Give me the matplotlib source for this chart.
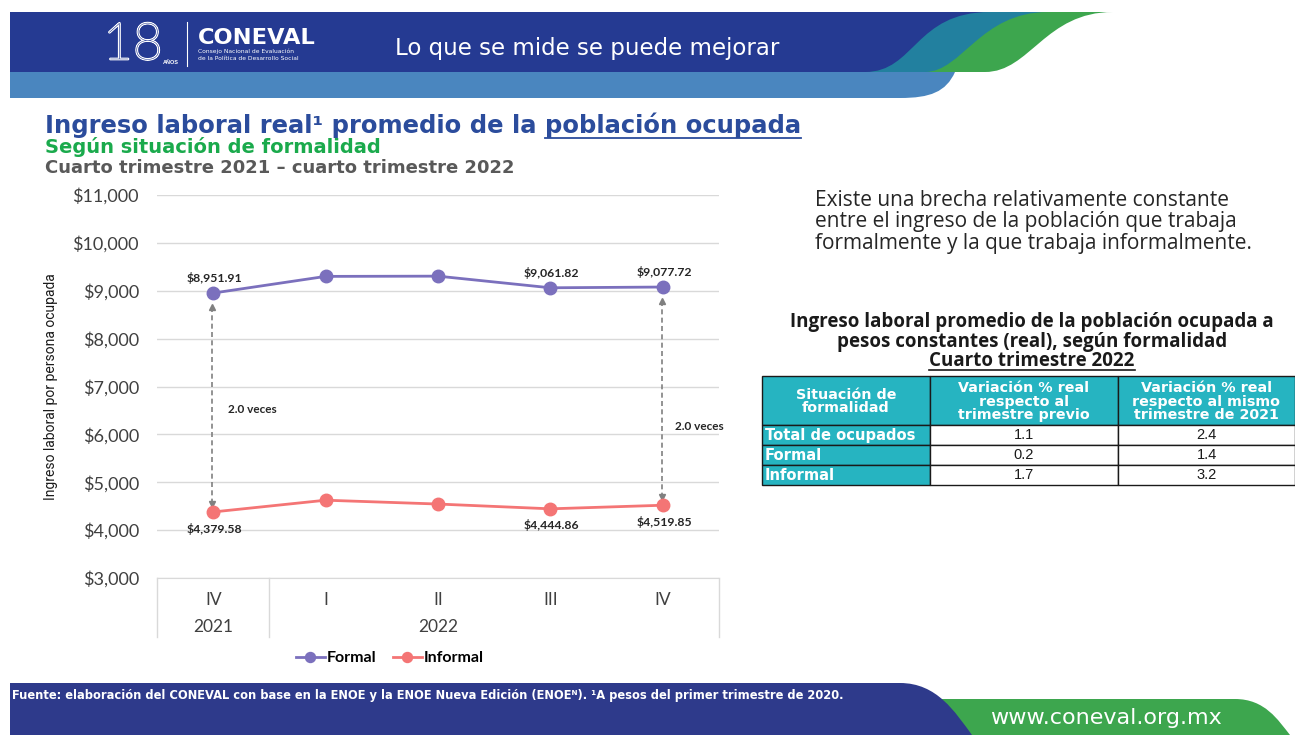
import matplotlib
matplotlib.use("Agg")
import matplotlib.pyplot as plt
from matplotlib.path import Path
from matplotlib.patches import PathPatch, Rectangle
from matplotlib.ticker import FuncFormatter
import matplotlib.patheffects as pe

# datos
trimestres = ["IV", "I", "II", "III", "IV"]
anios = ["2021", "2022"]
formal = [8951.91, 9300.0, 9305.0, 9061.82, 9077.72]
informal = [4379.58, 4625.0, 4545.0, 4444.86, 4519.85]
etiquetas_idx = [0, 3, 4]
brecha_txt = ["2.0 veces", "2.0 veces"]

tabla_encabezado = ["Situación de\nformalidad",
                    "Variación % real\nrespecto al\ntrimestre previo",
                    "Variación % real\nrespecto al mismo\ntrimestre de 2021"]
tabla_filas = ["Total de ocupados", "Formal", "Informal"]
var_previo = [1.1, 0.2, 1.7]
var_anual = [2.4, 1.4, 3.2]

C_FORMAL = "#7B70BD"
C_INFORMAL = "#F47575"
AZUL = "#253A92"
TEAL = "#22809F"
VERDE = "#3DA64E"
AZUL_CLARO = "#4A86BF"
TURQ = "#26B4C1"

CAL = ["Lato", "DejaVu Sans"]
OPEN = ["Open Sans", "DejaVu Sans"]
ARIAL = ["Liberation Sans", "DejaVu Sans"]
ANCHA = ["DejaVu Sans"]

fig = plt.figure(figsize=(12.95, 7.35), dpi=100)
deco = fig.add_axes([0, 0, 1, 1], zorder=0)
deco.set_xlim(0, 1295)
deco.set_ylim(735, 0)
deco.axis("off")
r = fig.canvas.get_renderer()


def ancho(t):
    return t.get_window_extent(renderer=r).width


def ajustar(t, objetivo, maximo):
    # ajusta el tamaño para que el texto ocupe el ancho del original
    size = t.get_fontsize() * objetivo / ancho(t)
    t.set_fontsize(min(size, maximo))
    return t


def franja(xt, ct, cb, xb, color, top=12, bottom=72):
    verts = [(10, top), (xt, top), (ct, top), (cb, bottom), (xb, bottom), (10, bottom), (10, top)]
    codes = [Path.MOVETO, Path.LINETO, Path.CURVE4, Path.CURVE4, Path.CURVE4,
             Path.LINETO, Path.CLOSEPOLY]
    deco.add_patch(PathPatch(Path(verts, codes), facecolor=color, edgecolor="none"))


codes = [Path.MOVETO, Path.LINETO, Path.CURVE4, Path.CURVE4, Path.CURVE4, Path.LINETO, Path.CLOSEPOLY]

# encabezado
franja(1113, 1045, 1030, 985, VERDE)
franja(1048, 980, 962, 925, TEAL)
franja(990, 915, 915, 865, AZUL)
verts = [(10, 72), (955, 72), (946, 92), (930, 98), (900, 98), (10, 98), (10, 72)]
deco.add_patch(PathPatch(Path(verts, codes), facecolor=AZUL_CLARO, edgecolor="none"))

deco.text(103, 45, "18", color=AZUL, fontsize=37, family=CAL, fontweight="light",
          va="center", ha="left",
          path_effects=[pe.withStroke(linewidth=1.6, foreground="white")])
deco.text(163, 62, "AÑOS", color="white", fontsize=4, family=ARIAL, fontweight="bold", va="center")
deco.plot([187, 187], [22, 66], color="white", lw=0.8)
ajustar(deco.text(198, 38, "CONEVAL", color="white", fontsize=15, family=ANCHA,
                  fontweight="heavy", va="center"), 117, 17)
deco.text(198, 51, "Consejo Nacional de Evaluación", color="white", fontsize=4.3, family=ANCHA, va="center")
deco.text(198, 58, "de la Política de Desarrollo Social", color="white", fontsize=4.3, family=ANCHA, va="center")
ajustar(deco.text(395, 48, "Lo que se mide se puede mejorar", color="white", fontsize=15,
                  family=ANCHA, va="center"), 400, 16.5)

# pie
verts = [(940, 699), (1235, 699), (1265, 699), (1278, 720), (1290, 735), (940, 735), (940, 699)]
deco.add_patch(PathPatch(Path(verts, codes), facecolor=VERDE, edgecolor="none"))
verts = [(10, 683), (900, 683), (937, 683), (955, 712), (972, 735), (10, 735), (10, 683)]
deco.add_patch(PathPatch(Path(verts, codes), facecolor="#2E3A8B", edgecolor="none"))
ajustar(deco.text(12, 696, "Fuente: elaboración del CONEVAL con base en la ENOE y la ENOE Nueva Edición (ENOEᴺ). "
                  "¹A pesos del primer trimestre de 2020.", color="white", fontsize=7.6,
                  family=ANCHA, fontweight="bold", va="center"), 833, 8.6)
ajustar(deco.text(990, 718, "www.coneval.org.mx", color="white", fontsize=15, family=ANCHA,
                  va="center"), 245, 16)

# titulos
titulo = "Ingreso laboral real¹ promedio de la población ocupada"
prefijo = "Ingreso laboral real¹ promedio de la "
t1 = ajustar(deco.text(45, 133, titulo, color="#2B4C9C", fontsize=17, family=ANCHA,
                       fontweight="bold", va="baseline"), 806, 17.5)
tp = deco.text(45, 133, prefijo, fontsize=t1.get_fontsize(), family=ANCHA, fontweight="bold",
               va="baseline")
x_sub = 45 + ancho(tp)
tp.remove()
deco.plot([x_sub, 45 + ancho(t1)], [137.5, 137.5], color="#2B4C9C", lw=1.3)
ajustar(deco.text(45, 153, "Según situación de formalidad", color="#1AAA4C", fontsize=13,
                  family=ANCHA, fontweight="bold", va="baseline"), 370, 14)
ajustar(deco.text(45, 173, "Cuarto trimestre 2021 – cuarto trimestre 2022", color="#595959",
                  fontsize=12.5, family=ANCHA, fontweight="bold", va="baseline"), 496, 13)

# texto derecho
lineas = ["Existe una brecha relativamente constante",
          "entre el ingreso de la población que trabaja",
          "formalmente y la que trabaja informalmente."]
t = ajustar(deco.text(815, 200, lineas[0], color="#262626", fontsize=14, family=OPEN,
                      va="center"), 420, 15)
for i, linea in enumerate(lineas[1:], start=1):
    deco.text(815, 200 + i * 21.5, linea, color="#262626", fontsize=t.get_fontsize(),
              family=OPEN, va="center")

# titulo de la tabla
tt = ajustar(deco.text(1032, 322, "Ingreso laboral promedio de la población ocupada a", color="#1A1A1A",
                       fontsize=12.5, family=OPEN, fontweight="bold", va="center", ha="center"), 492, 13.5)
fs = tt.get_fontsize()
deco.text(1032, 341.5, "pesos constantes (real), según formalidad", color="#1A1A1A", fontsize=fs,
          family=OPEN, fontweight="bold", va="center", ha="center")
t3 = deco.text(1032, 361, "Cuarto trimestre 2022", color="#1A1A1A", fontsize=fs, family=OPEN,
               fontweight="bold", va="center", ha="center")
w3 = ancho(t3)
deco.plot([1032 - w3 / 2, 1032 + w3 / 2], [370, 370], color="#1A1A1A", lw=1.2)

# tabla
col_x = [762, 930, 1118, 1295]
fila_y = [376, 425, 445, 465, 485]
for j in range(3):
    deco.add_patch(Rectangle((col_x[j], fila_y[0]), col_x[j + 1] - col_x[j], fila_y[1] - fila_y[0],
                             facecolor=TURQ, edgecolor="#1A1A1A", lw=1))
    deco.text((col_x[j] + col_x[j + 1]) / 2, (fila_y[0] + fila_y[1]) / 2 + 1, tabla_encabezado[j],
              color="white", fontsize=10.3, family=ANCHA, fontweight="bold",
              ha="center", va="center", linespacing=0.95)
for i, nombre in enumerate(tabla_filas):
    y0, y1 = fila_y[i + 1], fila_y[i + 2]
    deco.add_patch(Rectangle((col_x[0], y0), col_x[1] - col_x[0], y1 - y0,
                             facecolor=TURQ, edgecolor="#1A1A1A", lw=1))
    deco.text(col_x[0] + 3, (y0 + y1) / 2, nombre, color="white", fontsize=10.6,
              family=ANCHA, fontweight="bold", va="center")
    for j, val in enumerate([var_previo[i], var_anual[i]]):
        deco.add_patch(Rectangle((col_x[j + 1], y0), col_x[j + 2] - col_x[j + 1], y1 - y0,
                                 facecolor="white", edgecolor="#1A1A1A", lw=1))
        deco.text((col_x[j + 1] + col_x[j + 2]) / 2, (y0 + y1) / 2, f"{val:.1f}",
                  color="#1A1A1A", fontsize=10.5, family=ARIAL, va="center", ha="center")

# grafica
ax = fig.add_axes([157 / 1295, 1 - 578 / 735, 562 / 1295, 383 / 735], zorder=2)
ax.patch.set_alpha(0)
x = list(range(len(trimestres)))
ax.set_xlim(-0.5, 4.5)
ax.set_ylim(3000, 11000)
ax.set_yticks(range(3000, 11001, 1000))
ax.yaxis.set_major_formatter(FuncFormatter(lambda v, p: f"${v:,.0f}"))
ax.yaxis.grid(True, color="#D9D9D9", lw=1)
ax.set_axisbelow(True)
for s in ["top", "right", "left"]:
    ax.spines[s].set_visible(False)
ax.spines["bottom"].set_color("#D9D9D9")
ax.set_xticks([])
ax.tick_params(axis="y", length=0, pad=13, labelsize=13, labelcolor="#404040")
for lab in ax.get_yticklabels():
    lab.set_family(CAL)

ax.plot(x, formal, color=C_FORMAL, lw=2, marker="o", ms=9, label="Formal", zorder=3)
ax.plot(x, informal, color=C_INFORMAL, lw=2, marker="o", ms=9, label="Informal", zorder=3)

for i in etiquetas_idx:
    ax.annotate(f"${formal[i]:,.2f}", (x[i], formal[i]), xytext=(1, 11), textcoords="offset points",
                ha="center", va="center", fontsize=8.8, fontweight="bold", family=CAL, color="#262626")
    ax.annotate(f"${informal[i]:,.2f}", (x[i], informal[i]), xytext=(1, -12), textcoords="offset points",
                ha="center", va="center", fontsize=8.8, fontweight="bold", family=CAL, color="#262626")

# flechas de brecha
for i in [0, 4]:
    ytop = formal[i] - 300
    ybot = informal[i] + 170
    xa = x[i] - 0.01
    ax.plot([xa, xa], [ytop, ybot], color="#808080", lw=1.2, ls=(0, (3, 2)), zorder=2)
    ax.plot([xa], [ytop], marker="^", color="#808080", ms=5, zorder=2)
    ax.plot([xa], [ybot], marker="v", color="#808080", ms=5, zorder=2)
ax.text(x[0] + 0.13, 6520, brecha_txt[0], fontsize=8.5, fontweight="bold", family=CAL,
        color="#262626", va="center")
ax.text(x[4] + 0.11, 6165, brecha_txt[1], fontsize=8.5, fontweight="bold", family=CAL,
        color="#262626", va="center")

# eje de categorias
xt = ax.get_xaxis_transform()
for i, etq in enumerate(trimestres):
    ax.text(x[i], -22 / 383, etq, transform=xt, ha="center", va="center", fontsize=12.5,
            family=CAL, color="#404040")
ax.text(0, -49 / 383, anios[0], transform=xt, ha="center", va="center", fontsize=12.5,
        family=CAL, color="#404040")
ax.text(2, -49 / 383, anios[1], transform=xt, ha="center", va="center", fontsize=12.5,
        family=CAL, color="#404040")
for xs in [-0.5, 0.5, 4.5]:
    ax.plot([xs, xs], [0, -59 / 383], transform=xt, color="#D9D9D9", lw=1, clip_on=False)

yl = ax.set_ylabel("Ingreso laboral por persona ocupada", fontsize=11,
                   family=["Roboto", "DejaVu Sans"], color="#1A1A1A")
ax.yaxis.set_label_coords(-99 / 562, 0.5)
h = yl.get_window_extent(renderer=r).height
yl.set_fontsize(min(11 * 225 / h, 12))

ax.legend(loc="center", bbox_to_anchor=(390 / 1295, 1 - 658 / 735), bbox_transform=fig.transFigure,
          ncol=2, frameon=False, handlelength=1.8, columnspacing=1.0, handletextpad=0.15,
          prop={"family": CAL, "weight": "bold", "size": 11.5}, markerscale=0.8)

fig.savefig("out.png", dpi=100)
